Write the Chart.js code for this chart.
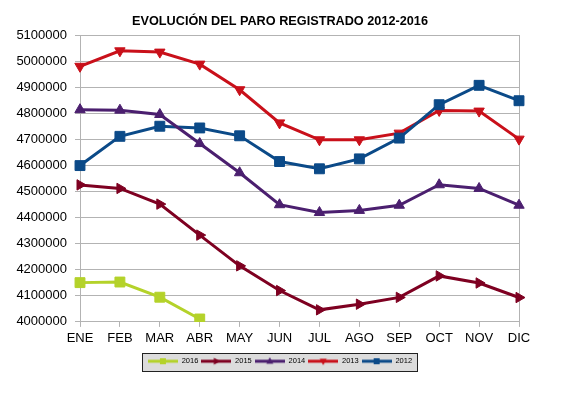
<!DOCTYPE html>
<html>
<head>
<meta charset="utf-8">
<script src="https://cdn.jsdelivr.net/npm/chart.js@4/dist/chart.umd.min.js"></script>
<style>
  html, body { margin: 0; padding: 0; background: #fff; }
  #wrap { width: 570px; height: 396px; }
</style>
</head>
<body>
<div id="wrap"><canvas id="paroChart" width="570" height="396"></canvas></div>
<script>
/* datos */
const meses = ['ENE', 'FEB', 'MAR', 'ABR', 'MAY', 'JUN', 'JUL', 'AGO', 'SEP', 'OCT', 'NOV', 'DIC'];
const paro2016 = [4150710, 4152986, 4094770, 4011171];
const paro2015 = [4525691, 4512153, 4451939, 4333016, 4215031, 4120304, 4046276, 4067955, 4094042, 4176369, 4149298, 4093508];
const paro2014 = [4814435, 4812486, 4795866, 4684301, 4572385, 4449701, 4419860, 4427930, 4447650, 4526269, 4512116, 4447711];
const paro2013 = [4980778, 5040222, 5035243, 4989193, 4890928, 4763680, 4698814, 4698783, 4724355, 4811383, 4808908, 4701338];
const paro2012 = [4599829, 4712098, 4750867, 4744235, 4714122, 4615269, 4587455, 4625634, 4705279, 4833521, 4907817, 4848723];
const yMin = 4000000;
const yMax = 5100000;
const yPaso = 100000;

const fuente = "'Liberation Sans', Arial, sans-serif";
const gris = '#b3b3b3';

function serie(label, data, color, estilo, giro, radio, orden) {
    return {
        label: label,
        data: data,
        borderColor: color,
        backgroundColor: color,
        borderWidth: 3,
        pointStyle: estilo,
        pointRotation: giro,
        pointRadius: radio,
        pointHoverRadius: radio,
        pointBorderWidth: 1,
        tension: 0,
        order: orden
    };
}

// muestra de la leyenda: linea con el marcador en medio
function muestra(ds) {
    const c = document.createElement('canvas');
    c.width = 30;
    c.height = 10;
    const g = c.getContext('2d');
    g.strokeStyle = ds.borderColor;
    g.fillStyle = ds.borderColor;
    g.lineWidth = 3;
    g.beginPath();
    g.moveTo(0, 5);
    g.lineTo(30, 5);
    g.stroke();
    g.save();
    g.translate(15, 5);
    g.rotate(ds.pointRotation * Math.PI / 180);
    g.beginPath();
    if (ds.pointStyle === 'rect') {
        g.rect(-3, -3, 6, 6);
    } else {
        g.moveTo(0, -4);
        g.lineTo(3.5, 2.5);
        g.lineTo(-3.5, 2.5);
        g.closePath();
    }
    g.fill();
    g.restore();
    return c;
}

const cajaLeyenda = {
    id: 'cajaLeyenda',
    beforeDraw(chart) {
        const cajas = chart.legend.legendHitBoxes;
        if (!cajas || !cajas.length) return;
        let l = Infinity, r = -Infinity, t = Infinity, b = -Infinity;
        cajas.forEach(h => {
            l = Math.min(l, h.left);
            r = Math.max(r, h.left + h.width);
            t = Math.min(t, h.top);
            b = Math.max(b, h.top + h.height);
        });
        const ctx = chart.ctx;
        ctx.save();
        ctx.fillStyle = '#dcdcdc';
        ctx.strokeStyle = '#222';
        ctx.lineWidth = 1;
        const x = Math.round(l - 6) + 0.5, y = Math.round(t - 5) + 0.5;
        const w = Math.round(r - l + 11), h = Math.round(b - t + 10);
        ctx.fillRect(x, y, w, h);
        ctx.strokeRect(x, y, w, h);
        ctx.restore();
    }
};

const ctx = document.getElementById('paroChart').getContext('2d');
const grafico = new Chart(ctx, {
    type: 'line',
    data: {
        labels: meses,
        datasets: [
            serie('2016', paro2016, '#b4d22a', 'rect', 0, 7, 0),
            serie('2015', paro2015, '#7e0021', 'triangle', 90, 6, 1),
            serie('2014', paro2014, '#4b1f6f', 'triangle', 0, 6, 2),
            serie('2013', paro2013, '#c9101a', 'triangle', 180, 6, 4),
            serie('2012', paro2012, '#0b4a88', 'rect', 0, 7, 3)
        ]
    },
    options: {
        responsive: false,
        animation: false,
        layout: { padding: { left: 14, right: 24, top: 14, bottom: 21 } },
        plugins: {
            tooltip: { enabled: false },
            title: {
                display: true,
                text: 'EVOLUCIÓN DEL PARO REGISTRADO 2012-2016',
                color: '#000',
                font: { family: fuente, size: 12.7, weight: 'bold' },
                padding: { top: 0, bottom: 6 }
            },
            legend: {
                position: 'bottom',
                labels: {
                    usePointStyle: true,
                    pointStyleWidth: 30,
                    padding: 3,
                    color: '#000',
                    font: { family: fuente, size: 7.5 },
                    sort: (a, b) => a.datasetIndex - b.datasetIndex,
                    generateLabels(chart) {
                        const items = Chart.defaults.plugins.legend.labels.generateLabels(chart);
                        items.forEach(it => {
                            it.pointStyle = muestra(chart.data.datasets[it.datasetIndex]);
                            it.rotation = 0;
                        });
                        return items;
                    }
                }
            }
        },
        scales: {
            x: {
                offset: false,
                grid: { drawOnChartArea: false, tickLength: 5, color: gris, tickColor: gris },
                border: { color: gris },
                ticks: { color: '#000', padding: 4, font: { family: fuente, size: 13 }, maxRotation: 0 },
                afterFit(s) { s.height += 4; }
            },
            y: {
                min: yMin,
                max: yMax,
                grid: { color: gris, tickLength: 5 },
                border: { color: gris },
                ticks: {
                    stepSize: yPaso,
                    color: '#000',
                    padding: 8,
                    font: { family: fuente, size: 13 },
                    callback: v => String(v)
                },
                afterFit(s) { s.width = 66; }
            },
            yR: {
                position: 'right',
                grid: { display: false },
                ticks: { display: false },
                border: { display: true, color: gris },
                afterFit(s) { s.width = 27; }
            }
        }
    },
    plugins: [cajaLeyenda]
});
</script>
</body>
</html>
